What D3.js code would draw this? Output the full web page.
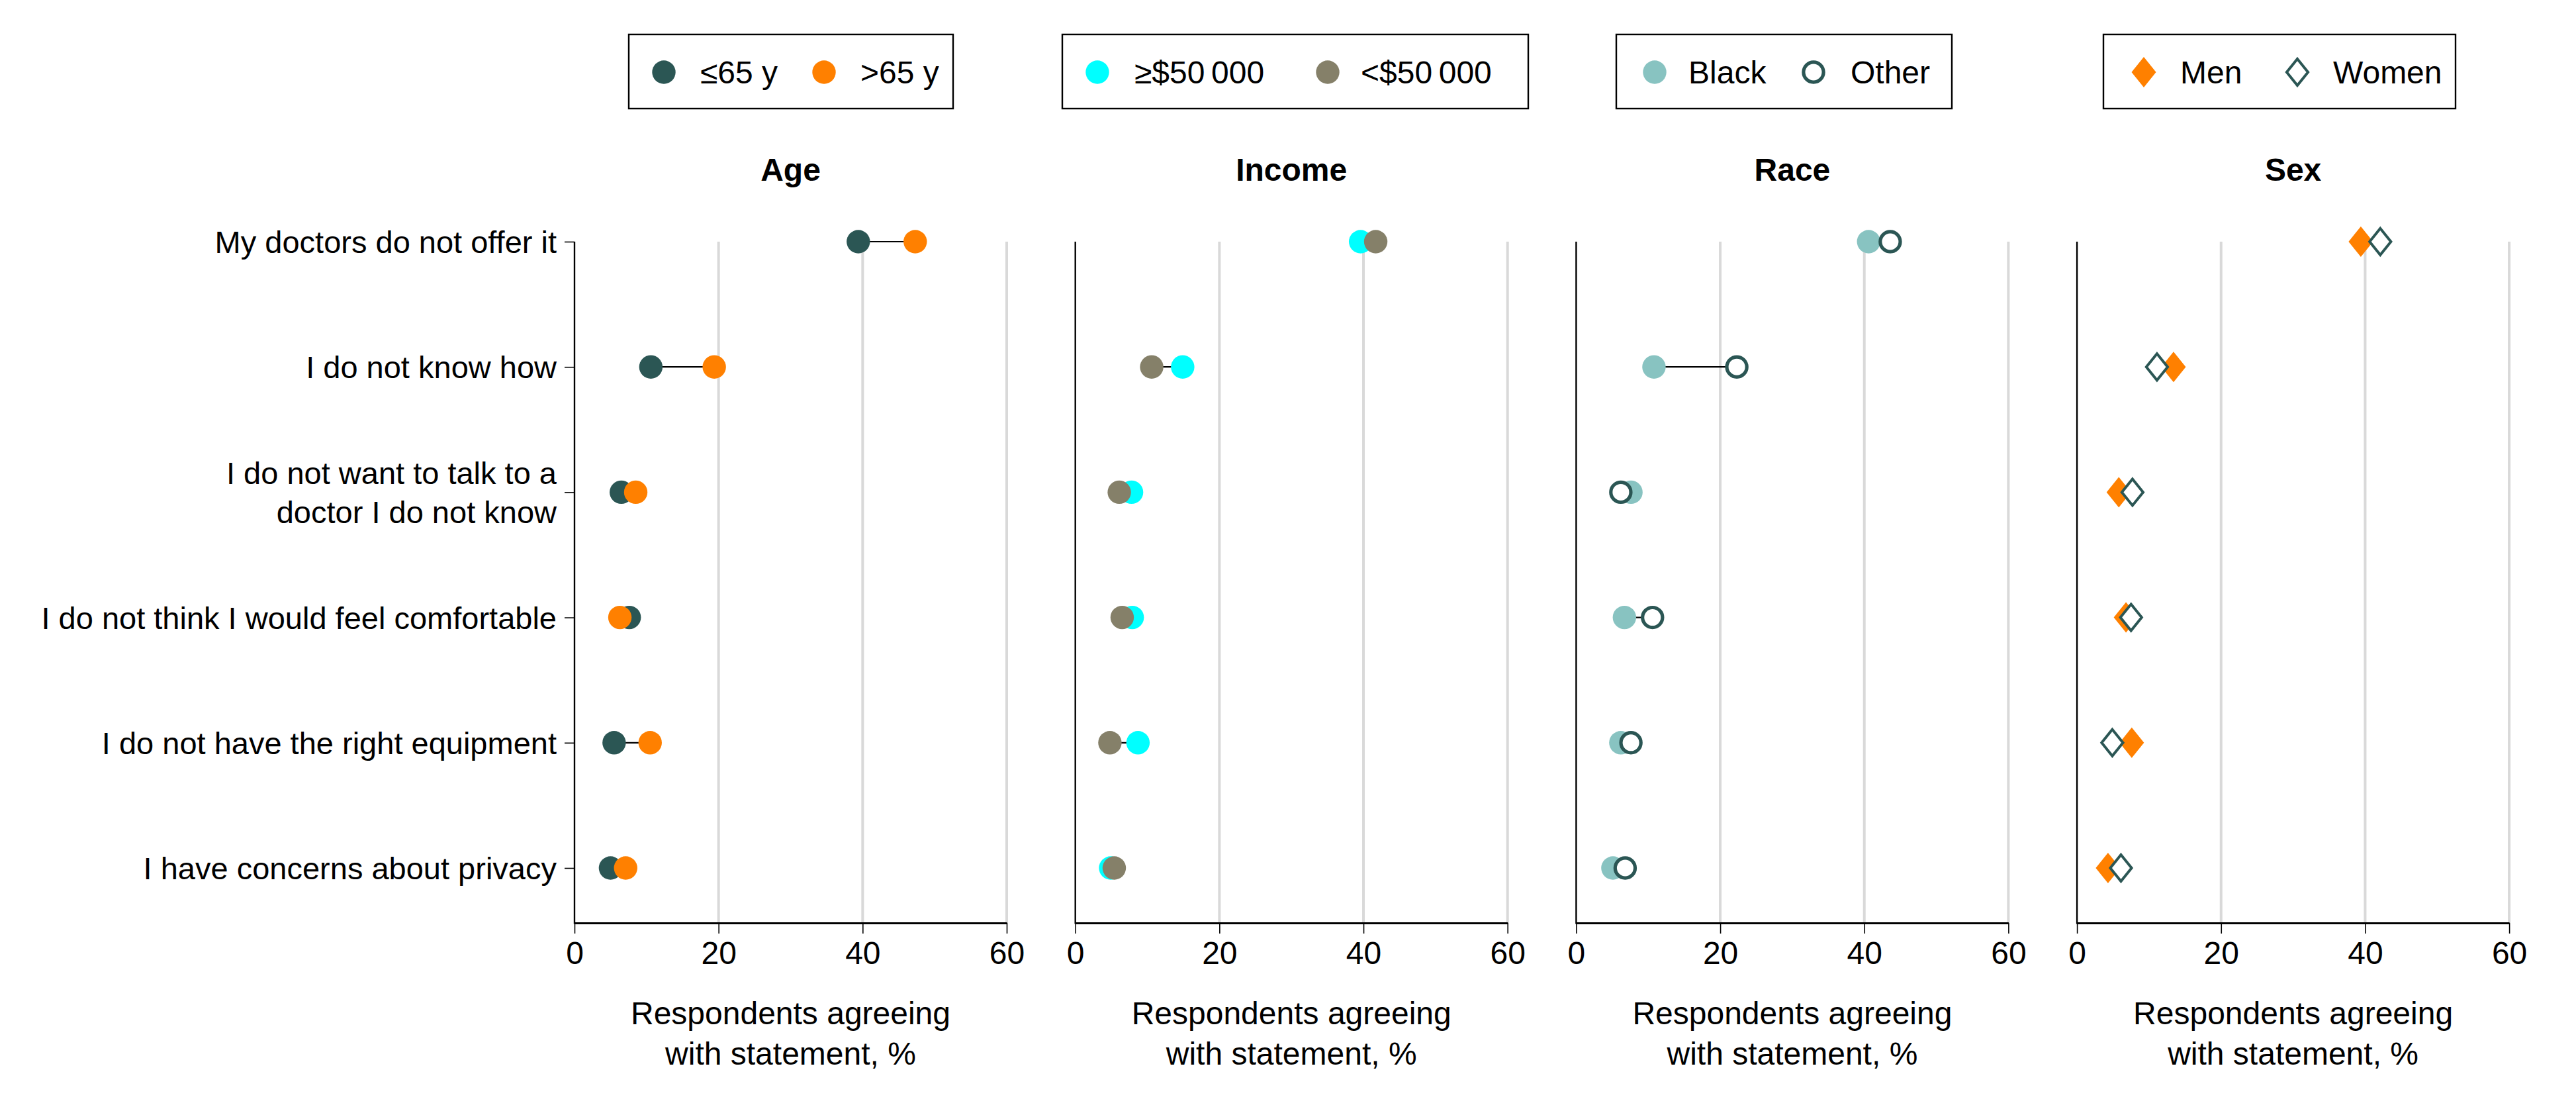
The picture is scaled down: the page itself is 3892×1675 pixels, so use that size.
<!DOCTYPE html>
<html>
<head>
<meta charset="utf-8">
<script src="https://cdn.jsdelivr.net/npm/d3@7"></script>
<style>
  html, body { margin: 0; padding: 0; background: #ffffff; }
  svg { display: block; }
  text { font-family: "Liberation Sans", Arial, sans-serif; fill: #000; }
</style>
</head>
<body>
<svg id="chart" width="3892" height="1675"></svg>
<script>
// ---------------- DATA ----------------
const categories = [
  "My doctors do not offer it",
  "I do not know how",
  "I do not want to talk to a\ndoctor I do not know",
  "I do not think I would feel comfortable",
  "I do not have the right equipment",
  "I have concerns about privacy"
];
const panelTitles = ["Age", "Income", "Race", "Sex"];
const seriesNames = [
  ["\u226465 y", ">65 y"],
  ["\u2265$50\u2009000", "<$50\u2009000"],
  ["Black", "Other"],
  ["Men", "Women"]
];
const ageLE65   = [39.4, 10.6, 6.5, 7.6, 5.5, 5.0];
const ageGT65   = [47.3, 19.4, 8.5, 6.3, 10.5, 7.1];
const incomeGE50k = [39.6, 14.9, 7.8, 7.9, 8.7, 4.9];
const incomeLT50k = [41.7, 10.6, 6.1, 6.5, 4.8, 5.4];
const raceBlack = [40.6, 10.8, 7.6, 6.7, 6.2, 5.1];
const raceOther = [43.6, 22.3, 6.2, 10.6, 7.6, 6.8];
const sexMen    = [39.4, 13.4, 5.8, 6.8, 7.6, 4.3];
const sexWomen  = [42.1, 11.1, 7.7, 7.5, 4.9, 6.1];
const xTicks = [0, 20, 40, 60];
const xDomain = [0, 60];
const axisTitleLines = ["Respondents agreeing", "with statement, %"];

// ---------------- STYLE / LAYOUT ----------------
const C = {
  dkteal: "#2b5654", orange: "#ff8000", cyan: "#00ffff",
  olive: "#858069", ltteal: "#88c3c1", grid: "#d9d9d9"
};
// marker styles per panel: [series1, series2]
const markerStyles = [
  [{shape: "circle", fill: C.dkteal}, {shape: "circle", fill: C.orange}],
  [{shape: "circle", fill: C.cyan}, {shape: "circle", fill: C.olive}],
  [{shape: "circle", fill: C.ltteal}, {shape: "ring", stroke: C.dkteal}],
  [{shape: "diamond", fill: C.orange}, {shape: "odiamond", stroke: C.dkteal}]
];
const panelData = [
  [ageLE65, ageGT65],
  [incomeGE50k, incomeLT50k],
  [raceBlack, raceOther],
  [sexMen, sexWomen]
];
const panelLeft0 = 868, panelStep = 756.7, panelWidth = 653;
const plotTop = 365, plotBottom = 1394, rowLast = 1311;
// legend layout (absolute px): box left/right, marker1 x, text1 x, marker2 x, text2 x
const legendLayout = [
  {x0: 950,  x1: 1440, m1: 1003, t1: 1058, m2: 1245, t2: 1300},
  {x0: 1605, x1: 2309, m1: 1658, t1: 1714, m2: 2006, t2: 2056},
  {x0: 2442, x1: 2949, m1: 2500, t1: 2551, m2: 2740, t2: 2796},
  {x0: 3178, x1: 3710, m1: 3239, t1: 3294, m2: 3471, t2: 3525}
];
const legendTop = 52, legendBottom = 164;
const FS = 48, FS_CAT = 47;

const svg = d3.select("#chart");
svg.append("rect").attr("width", 3892).attr("height", 1675).attr("fill", "#fff");

const y = d3.scalePoint().domain(categories).range([plotTop, rowLast]);

function drawMarker(g, style, cx, cy) {
  const r = 17.7;
  if (style.shape === "circle") {
    g.append("circle").attr("cx", cx).attr("cy", cy).attr("r", r).attr("fill", style.fill);
  } else if (style.shape === "ring") {
    g.append("circle").attr("cx", cx).attr("cy", cy).attr("r", r - 2.6)
      .attr("fill", "#fff").attr("stroke", style.stroke).attr("stroke-width", 5.2);
  } else if (style.shape === "diamond" || style.shape === "odiamond") {
    const hw = 18.5, hh = 23;
    const p = g.append("path");
    if (style.shape === "diamond") {
      p.attr("d", d3.line()([[cx, cy - hh], [cx + hw, cy], [cx, cy + hh], [cx - hw, cy]]) + "Z")
        .attr("fill", style.fill);
    } else {
      const iw = hw - 2.4, ih = hh - 3;
      p.attr("d", d3.line()([[cx, cy - ih], [cx + iw, cy], [cx, cy + ih], [cx - iw, cy]]) + "Z")
        .attr("fill", "#fff").attr("stroke", style.stroke).attr("stroke-width", 4);
    }
  }
}

panelTitles.forEach((title, pi) => {
  const left = panelLeft0 + pi * panelStep;
  const x = d3.scaleLinear().domain(xDomain).range([left, left + panelWidth]);
  const g = svg.append("g");

  // gridlines
  g.selectAll("line.grid").data(xTicks.filter(t => t !== 0)).enter().append("line")
    .attr("x1", d => x(d)).attr("x2", d => x(d))
    .attr("y1", plotTop).attr("y2", plotBottom)
    .attr("stroke", C.grid).attr("stroke-width", 4);

  // x axis
  const xAxis = d3.axisBottom(x).tickValues(xTicks).tickSize(16).tickPadding(12).tickSizeOuter(0);
  const ax = g.append("g").attr("transform", `translate(0,${plotBottom})`).call(xAxis);
  ax.select(".domain").attr("stroke", "#000").attr("stroke-width", 3);
  ax.selectAll(".tick line").attr("stroke", "#000").attr("stroke-width", 1.6);
  ax.selectAll(".tick text").attr("font-size", FS).attr("font-family", "Liberation Sans, Arial, sans-serif")
    .attr("fill", "#000").attr("dy", "0.71em");

  // y axis ticks + category labels (first panel only)
  if (pi === 0) {
    const yAxis = d3.axisLeft(y).tickSize(15).tickPadding(12).tickSizeOuter(0).tickFormat("");
    const ay = g.append("g").attr("transform", `translate(${left},0)`).call(yAxis);
    ay.select(".domain").remove();
    ay.selectAll(".tick line").attr("stroke", "#000").attr("stroke-width", 1.6);
    categories.forEach(c => {
      const lines = c.split("\n");
      const t = g.append("text").attr("text-anchor", "end").attr("font-size", FS_CAT)
        .attr("x", left - 27).attr("y", y(c));
      const lh = 59;
      lines.forEach((ln, i) => {
        t.append("tspan").attr("x", left - 27)
          .attr("y", y(c) + (i - (lines.length - 1) / 2) * lh + 17).text(ln);
      });
    });
  }
  g.append("line").attr("x1", left).attr("x2", left).attr("y1", plotTop).attr("y2", plotBottom + 1.5)
    .attr("stroke", "#000").attr("stroke-width", 2.4);

  // panel title
  g.append("text").attr("x", x(30)).attr("y", 273).attr("text-anchor", "middle")
    .attr("font-size", FS).attr("font-weight", "bold").text(title);

  // axis title
  axisTitleLines.forEach((ln, i) => {
    g.append("text").attr("x", x(30)).attr("y", 1547 + i * 61).attr("text-anchor", "middle")
      .attr("font-size", FS).text(ln);
  });

  // connecting lines
  const [s1, s2] = panelData[pi];
  categories.forEach((c, i) => {
    g.append("line").attr("x1", x(s1[i])).attr("x2", x(s2[i]))
      .attr("y1", y(c)).attr("y2", y(c)).attr("stroke", "#000").attr("stroke-width", 2.2);
  });
  // markers: series 1 then series 2 (on top)
  [s1, s2].forEach((s, si) => {
    const mg = g.append("g");
    categories.forEach((c, i) => drawMarker(mg, markerStyles[pi][si], x(s[i]), y(c)));
  });

  // legend
  const L = legendLayout[pi];
  const lg = svg.append("g");
  lg.append("rect").attr("x", L.x0).attr("y", legendTop).attr("width", L.x1 - L.x0)
    .attr("height", legendBottom - legendTop).attr("fill", "#fff")
    .attr("stroke", "#000").attr("stroke-width", 2.4);
  const ly = (legendTop + legendBottom) / 2 + 1;
  drawMarker(lg, markerStyles[pi][0], L.m1, ly);
  drawMarker(lg, markerStyles[pi][1], L.m2, ly);
  lg.append("text").attr("x", L.t1).attr("y", ly + 17).attr("font-size", FS).text(seriesNames[pi][0]);
  lg.append("text").attr("x", L.t2).attr("y", ly + 17).attr("font-size", FS).text(seriesNames[pi][1]);
});
</script>
</body>
</html>
